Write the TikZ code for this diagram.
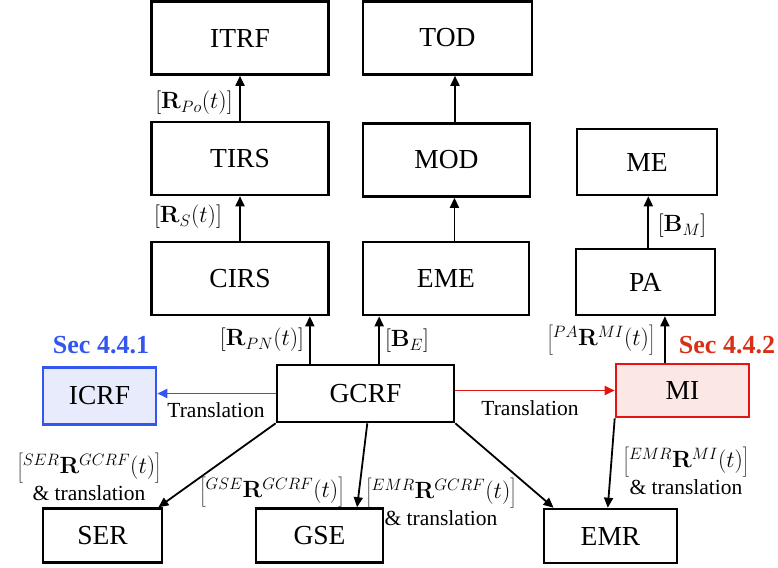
\RequirePackage{fix-cm}
\documentclass[tikz,border=0pt]{standalone}
\usepackage[no-math]{fontspec}
\setmainfont{Liberation Serif}
\usetikzlibrary{arrows.meta,calc}

\definecolor{secblue}{RGB}{51,85,240}
\definecolor{icrffill}{RGB}{232,235,252}
\definecolor{mired}{RGB}{226,20,20}
\definecolor{mifill}{RGB}{251,231,228}
\definecolor{secred}{RGB}{216,48,20}

\newcommand{\mlab}[1]{{\fontsize{23.5}{26}\selectfont$#1$}}

\begin{document}
\begin{tikzpicture}[x=1pt,y=-1pt,
	frame node/.style={draw, line width=2.6pt, inner sep=0pt, font=\fontsize{27.5}{30}\selectfont},
	big frame/.style={frame node, minimum width=177pt, minimum height=73pt},
	mid frame/.style={frame node, minimum width=167pt, minimum height=73pt},
	small frame/.style={frame node, minimum width=139pt, minimum height=66pt},
	low frame/.style={frame node, minimum height=54pt},
	edge label/.style={inner sep=0pt, align=center, font=\fontsize{21.5}{27}\selectfont},
	sec label/.style={inner sep=0pt, font=\fontsize{26}{28}\selectfont\bfseries},
	arr/.style={line width=1.8pt, -{Triangle[length=10pt,width=9pt]}}]

	\useasboundingbox (0,0) rectangle (778,567);

	% top rows
	\node[big frame] (ITRF) at (240,38) {ITRF};
	\node[mid frame, minimum width=169pt] (TOD) at (447.5,38) {TOD};
	\node[big frame] (TIRS) at (240,158.5) {TIRS};
	\node[mid frame] (MOD) at (446.5,160) {MOD};
	\node[big frame] (CIRS) at (240,278.5) {CIRS};
	\node[mid frame, minimum width=166pt] (EME) at (446,278.5) {EME};
	\node[small frame, minimum width=140pt] (ME) at (647,162) {ME};
	\node[small frame] (PA) at (645.5,282) {PA};

	% middle row
	\node[low frame, minimum width=177pt, minimum height=57pt] (GCRF) at (365.5,393.5) {GCRF};
	\node[low frame, minimum width=113pt, minimum height=57pt, draw=secblue, fill=icrffill] (ICRF) at (99.5,396) {ICRF};
	\node[low frame, minimum width=133pt, minimum height=53pt, draw=mired, fill=mifill] (MI) at (682.5,390.5) {MI};
	\node[sec label, text=secblue] (SecA) at (101,345) {Sec 4.4.1};
	\node[sec label, text=secred] (SecB) at (727,345) {Sec 4.4.2};

	% bottom row
	\node[low frame, minimum width=119pt] (SER) at (102.5,535.5) {SER};
	\node[low frame, minimum width=127pt] (GSE) at (319.5,535.5) {GSE};
	\node[low frame, minimum width=133pt] (EMR) at (610.5,536) {EMR};

	% vertical connectors
	\draw[arr] (CIRS.north) -- (TIRS.south);
	\draw[arr] (TIRS.north) -- (ITRF.south);
	\draw[arr] ($(EME.north west)!0.55!(EME.north east)$) coordinate (e1) -- (e1 |- MOD.south);
	\draw[arr] ($(MOD.north west)!0.55!(MOD.north east)$) coordinate (m1) -- (m1 |- TOD.south);
	\draw[arr] ($(PA.north west)!0.52!(PA.north east)$) coordinate (p1) -- (p1 |- ME.south);
	\draw[arr] ($(GCRF.north west)!0.19!(GCRF.north east)$) coordinate (g1) -- (g1 |- CIRS.south);
	\draw[arr] ($(GCRF.north west)!0.576!(GCRF.north east)$) coordinate (g2) -- (g2 |- EME.south);
	\draw[arr] ($(MI.north west)!0.37!(MI.north east)$) coordinate (mi1) -- (mi1 |- PA.south);

	% horizontal connectors
	\draw[arr, draw=secblue, fill=secblue] (GCRF.west) -- (GCRF.west -| ICRF.east);
	\draw[arr, draw=mired, fill=mired] (GCRF.east |- MI.west) -- (MI.west);

	% slanted connectors
	\draw[arr] (GCRF.south west) -- ($(SER.north west)!0.96!(SER.north east)$);
	\draw[arr] ($(GCRF.south west)!0.51!(GCRF.south east)$) -- ($(GSE.north west)!0.79!(GSE.north east)$);
	\draw[arr] (GCRF.south east) -- ($(EMR.north west)!0.08!(EMR.north east)$);
	\draw[arr] (MI.south west) -- ($(EMR.north west)!0.48!(EMR.north east)$);

	% labels
	\node[edge label] (lPo) at (194,103) {\mlab{[\mathbf{R}_{Po}(t)]}};
	\node[edge label] (lS) at (188,217) {\mlab{[\mathbf{R}_{S}(t)]}};
	\node[edge label] (lPN) at (262,340) {\mlab{[\mathbf{R}_{PN}(t)]}};
	\node[edge label] (lBE) at (407,341) {\mlab{[\mathbf{B}_{E}]}};
	\node[edge label] (lBM) at (682,226) {\mlab{[\mathbf{B}_{M}]}};
	\node[edge label] (lPA) at (601,340) {\mlab{\left[{}^{PA}\mathbf{R}^{MI}(t)\right]}};
	\node[edge label] (tA) at (216,410) {Translation};
	\node[edge label] (tB) at (530,408) {Translation};
	\node[edge label] (lSER) at (89,477) {\mlab{\left[{}^{SER}\mathbf{R}^{GCRF}(t)\right]}\\\& translation};
	\node[edge label] (lGSE) at (272,492) {\mlab{\left[{}^{GSE}\mathbf{R}^{GCRF}(t)\right]}};
	\node[edge label] (lEMR) at (441,502) {\mlab{\left[{}^{EMR}\mathbf{R}^{GCRF}(t)\right]}\\\& translation};
	\node[edge label] (lMI) at (686,471) {\mlab{\left[{}^{EMR}\mathbf{R}^{MI}(t)\right]}\\\& translation};
\end{tikzpicture}
\end{document}
